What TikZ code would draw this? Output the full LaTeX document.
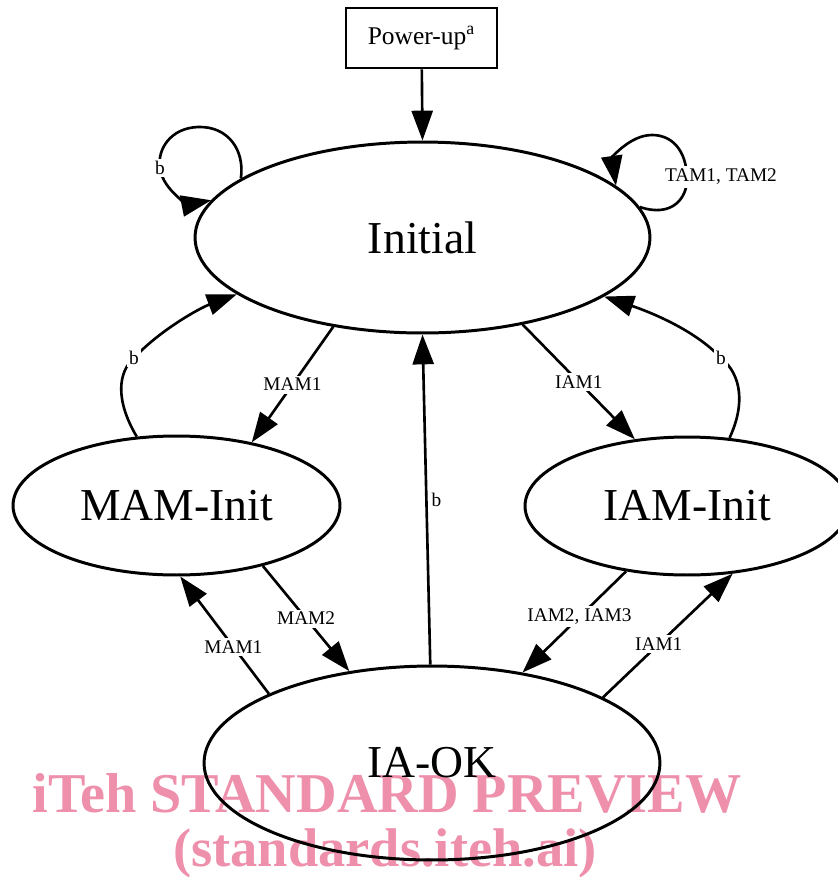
\documentclass[tikz,border=0pt]{standalone}
\usepackage{fontspec}
\setmainfont{Liberation Serif}
\usetikzlibrary{arrows.meta,shapes.geometric}
\definecolor{wmpink}{RGB}{238,143,172}

\begin{document}
\begin{tikzpicture}[x=0.02cm,y=-0.02cm,
    state/.style={draw,ellipse,line width=1.7pt,inner sep=0pt,font=\fontsize{26}{30}\selectfont},
    edge/.style={line width=1.5pt,-{Triangle[length=17pt,width=12pt]}},
    lbl/.style={fill=white,inner sep=1.5pt,font=\fontsize{11}{13}\selectfont},
    wmark/.style={text=wmpink,anchor=base,inner sep=0pt,font=\bfseries\fontsize{32}{36}\selectfont}]
    \useasboundingbox (0,0) rectangle (838,877);

    \node[wmark] (WmarkTop) at (387,812) {iTeh STANDARD PREVIEW};
    \node[wmark,font=\bfseries\fontsize{31}{36}\selectfont] (WmarkBot) at (385,866) {(standards.iteh.ai)};

    \node[draw,line width=1.5pt,minimum width=3.02cm,minimum height=1.2cm,font=\fontsize{14.5}{16}\selectfont] (PowerUp) at (421.5,38) {Power-up\textsuperscript{a}};
    \node[state,minimum width=9.1cm,minimum height=3.82cm] (Initial) at (422.5,237.5) {Initial};
    \node[state,minimum width=6.54cm,minimum height=2.78cm] (MAMInit) at (176.5,505.5) {MAM-Init};
    \node[state,minimum width=6.48cm,minimum height=2.76cm] (IAMInit) at (687,506) {IAM-Init};
    \node[state,minimum width=9.12cm,minimum height=3.88cm] (IAOK) at (432,763) {IA-OK};

    \draw[edge] (PowerUp) -- (Initial.90);
    \draw[edge] (Initial.162) .. controls (245,150) and (228,126) .. (198,127) .. controls (170,128) and (157,150) .. (160,168) node[lbl] {b} .. controls (163,192) and (192,204) .. (Initial.170);
    \draw[edge] (Initial.8) .. controls (672,218) and (688,198) .. (687,177) node[lbl,xshift=0.68cm] {TAM1, TAM2} .. controls (686,150) and (672,135) .. (652,135) .. controls (630,135) and (612,158) .. (Initial.15);

    \draw[edge] (Initial.225) -- node[lbl] {MAM1} (MAMInit.40);
    \draw[edge] (Initial.319) -- node[lbl] {IAM1} (IAMInit.128);
    \draw[edge] (MAMInit.120) .. controls (115,400) and (118,372) .. (134,358) node[lbl] {b} .. controls (160,330) and (200,308) .. (Initial.197);
    \draw[edge] (IAMInit.58) .. controls (745,405) and (742,375) .. (721,358) node[lbl] {b} .. controls (695,330) and (650,312) .. (Initial.342);
    \draw[edge] (IAOK.91) -- node[lbl,xshift=0.2cm] {b} (Initial.270);

    \draw[edge] (MAMInit.325) -- node[lbl] {MAM2} (IAOK.132);
    \draw[edge] (IAOK.157) -- node[lbl,pos=0.4] {MAM1} (MAMInit.273);
    \draw[edge] (IAMInit.227) -- node[lbl,pos=0.45] {IAM2, IAM3} (IAOK.45);
    \draw[edge] (IAOK.21) -- node[lbl,pos=0.43] {IAM1} (IAMInit.304);
\end{tikzpicture}
\end{document}
